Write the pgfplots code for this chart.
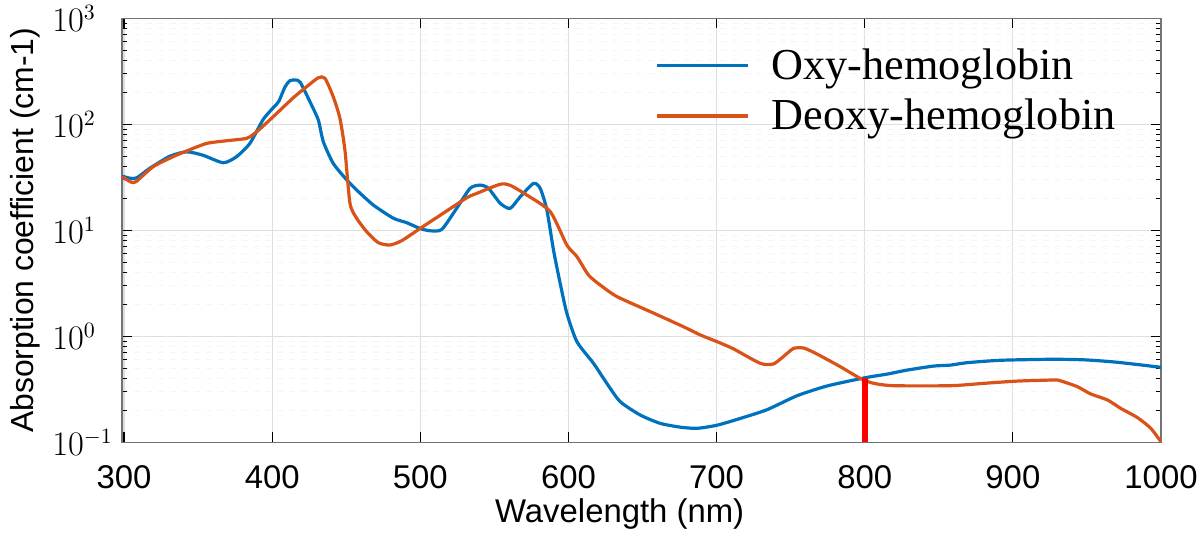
\documentclass[border=0pt]{standalone}
\usepackage{fontspec}
\setmainfont{Liberation Sans}
\newfontfamily\legfont{Liberation Serif}
\usepackage{pgfplots}
\pgfplotsset{compat=1.18}

\definecolor{oxyblue}{rgb}{0,0.447,0.741}
\definecolor{deoxyorange}{rgb}{0.85,0.325,0.098}

\pgfplotstableread{
lam val
298.6 32.5
304 31
308.6 31.3
317.4 38.5
330.9 50
342.2 55
353.4 51
366.9 43.4
375.9 49.5
384.9 66
393.9 111
401 145
404.5 165
408.6 225
412 258
416 262
419 248
425.5 163
431.1 110
434.5 68.6
441.2 42.8
450.3 29.9
457 24
468.3 17.3
481.8 13
490.8 11.8
499.8 10.4
506.6 9.9
514.5 10.2
524.6 16.2
533.6 24.9
540.3 26.7
546 24.9
553.9 18
560.6 16.1
567.4 20.7
576.4 27.7
580.9 24.9
585.4 15.6
589.9 6.5
594.4 3.16
598.9 1.65
605.7 0.89
616.9 0.556
625.9 0.36
634.9 0.242
648.4 0.181
661.9 0.151
675.4 0.139
686.8 0.1355
700.3 0.145
716 0.168
734 0.203
754.3 0.275
774.6 0.34
800 0.406
815.1 0.44
828.6 0.48
846.6 0.524
857.9 0.535
869.2 0.564
891.7 0.594
925.5 0.607
948 0.6
970.5 0.569
1000 0.51
}\oxy

\pgfplotstableread{
lam val
298.6 32
305 28.4
308.4 29
319.6 39.8
333.1 49.5
342.2 56
355.7 66
369.2 70
382.7 73.8
389.5 85
400.7 118
414.2 178
423.2 226
431.1 275
435.6 272
441.2 182
445.7 114
449.1 57
452.5 18
457 13
463.8 9.7
471.6 7.65
479.5 7.27
487.4 7.98
499.8 10.4
515.5 14.5
531.4 20.3
538.1 22.3
553.9 27.2
560.6 26.6
571.9 21.5
587.7 15
598.9 7.26
605.7 5.64
613.5 3.79
621.4 3.05
632.7 2.37
655.2 1.71
677.7 1.23
689 1.03
700.3 0.89
711.5 0.76
729.5 0.556
738.5 0.55
747.6 0.69
752 0.77
758.8 0.775
767.8 0.68
783.6 0.516
797.1 0.40
806.1 0.36
819.6 0.342
857.9 0.342
880.4 0.36
903 0.378
927.7 0.387
932.2 0.38
943.5 0.335
952.5 0.286
963.8 0.251
972.8 0.209
984.1 0.171
993.1 0.1355
1000 0.101
}\deoxy

\begin{document}
\begin{tikzpicture}
\begin{axis}[
  scale only axis,
  width=519.5bp, height=212bp,
  xmin=298.6, xmax=1000,
  ymode=log, ymin=0.1, ymax=1000,
  xtick={300,400,...,1000},
  ytick={0.1,1,10,100,1000},
  xmajorgrids, ymajorgrids, yminorgrids,
  major grid style={draw=black!13, line width=0.6bp},
  minor grid style={draw=black!4, dashed, line width=0.4bp},
  axis line style={draw=black!55, line width=0.7bp},
  tick style={black, line width=0.6bp},
  major tick length=5bp, minor tick length=2.5bp,
  tick align=inside,
  xticklabel style={font=\fontsize{16.5}{19}\selectfont, inner sep=0pt, anchor=north, yshift=-11.5bp,
    /pgf/number format/assume math mode=true, /pgf/number format/1000 sep={}},
  yticklabel style={font=\fontsize{16}{19}\selectfont, inner sep=0pt, anchor=west, xshift=-35bp},
  xlabel={Wavelength (nm)},
  ylabel={Absorption coefficient (cm-1)},
  every axis x label/.style={at={(axis description cs:0.479,-0.168)}, anchor=center, font=\fontsize{16.5}{19}\selectfont},
  every axis y label/.style={at={(axis description cs:-0.0934,0.5)}, rotate=90, anchor=center, font=\fontsize{16}{19}\selectfont},
  legend cell align=left,
  legend style={draw=none, fill=none, inner sep=0pt, at={(axis description cs:0.513,0.93)}, anchor=north west,
    font=\legfont\fontsize{22.2}{26}\selectfont, row sep=8.5bp, column sep=11bp, nodes={inner sep=0pt}},
  legend image code/.code={\draw[#1] (0bp,0bp) -- (45.5bp,0bp);},
]
\addplot[oxyblue, line width=1.6bp, smooth, tension=0.4] table[x=lam, y=val] {\oxy};
\addlegendentry{Oxy-hemoglobin}
\addplot[deoxyorange, line width=1.6bp, smooth, tension=0.4] table[x=lam, y=val] {\deoxy};
\addlegendentry{Deoxy-hemoglobin}
\addplot[red, line width=3bp, forget plot] coordinates {(800,0.1) (800,0.406)};
\end{axis}
\pgfresetboundingbox
\path[use as bounding box] (-61bp,-47.85bp) rectangle (538.5bp,221.15bp);
\end{tikzpicture}
\end{document}
